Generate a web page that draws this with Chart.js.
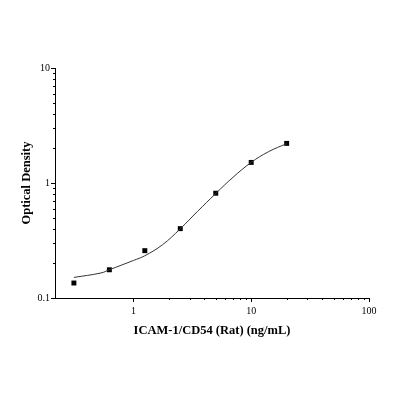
<!DOCTYPE html>
<html>
<head>
<meta charset="utf-8">
<script src="https://cdn.jsdelivr.net/npm/chart.js@4/dist/chart.umd.min.js"></script>
<style>
  html, body { margin: 0; padding: 0; background: #fff; }
</style>
</head>
<body>
<canvas id="chart" width="400" height="400"></canvas>
<script>
// standard points (concentration, OD)
var concentrations = [0.3125, 0.625, 1.25, 2.5, 5, 10, 20];
var odValues = [0.135, 0.176, 0.258, 0.401, 0.815, 1.51, 2.21];

// fitted curve
var curveX = [0.3125, 0.53, 0.625, 1, 1.25, 1.77, 2.5, 3.5, 5, 7, 10, 14, 20];
var curveY = [0.151, 0.165, 0.176, 0.212, 0.233, 0.291, 0.40, 0.566, 0.81, 1.12, 1.51, 1.87, 2.2];

// axis ticks
var xMajor = [1, 10, 100];
var xMinor = [2, 3, 4, 5, 6, 7, 8, 9, 20, 30, 40, 50, 60, 70, 80, 90];
var yMajor = [0.1, 1, 10];
var yMinor = [0.2, 0.3, 0.4, 0.5, 0.6, 0.7, 0.8, 0.9, 2, 3, 4, 5, 6, 7, 8, 9];

var serif = "'Liberation Serif', 'DejaVu Serif', serif";

var pointData = concentrations.map(function (c, i) { return {x: c, y: odValues[i]}; });
var curveData = curveX.map(function (c, i) { return {x: c, y: curveY[i]}; });

// short minor ticks outside the axes
var minorTicks = {
    id: "minorTicks",
    afterDraw: function (chart) {
        var ctx = chart.ctx;
        var xs = chart.scales.x, ys = chart.scales.y;
        ctx.save();
        ctx.strokeStyle = "#000";
        ctx.lineWidth = 1;
        ctx.beginPath();
        xMinor.forEach(function (v) {
            var px = Math.round(xs.getPixelForValue(v)) + 0.5;
            ctx.moveTo(px, xs.top);
            ctx.lineTo(px, xs.top + 2);
        });
        yMinor.forEach(function (v) {
            var py = Math.round(ys.getPixelForValue(v)) + 0.5;
            ctx.moveTo(ys.right, py);
            ctx.lineTo(ys.right - 2, py);
        });
        ctx.stroke();
        ctx.restore();
    }
};

var ctx = document.getElementById("chart");
var chart = new Chart(ctx, {
    type: "scatter",
    data: {
        datasets: [
            {
                label: "fit",
                data: curveData,
                showLine: true,
                borderColor: "#333",
                borderWidth: 1,
                pointRadius: 0,
                tension: 0.4,
                fill: false
            },
            {
                label: "standards",
                data: pointData,
                pointStyle: "rect",
                pointRadius: 3.5,
                backgroundColor: "#000",
                borderColor: "#000",
                borderWidth: 0,
                showLine: false
            }
        ]
    },
    options: {
        responsive: false,
        animation: false,
        devicePixelRatio: 1,
        layout: { padding: { top: 68, right: 31, left: 0, bottom: 0 } },
        plugins: {
            legend: { display: false },
            tooltip: { enabled: false }
        },
        scales: {
            x: {
                type: "logarithmic",
                min: 0.216,
                max: 100,
                afterBuildTicks: function (scale) {
                    scale.ticks = xMajor.map(function (v) { return {value: v}; });
                },
                afterFit: function (scale) { scale.height = 102; },
                ticks: {
                    color: "#000",
                    font: { family: serif, size: 10 },
                    padding: 3,
                    maxRotation: 0,
                    autoSkip: false,
                    callback: function (v) { return String(v); }
                },
                grid: {
                    drawOnChartArea: false,
                    drawTicks: true,
                    tickLength: 4,
                    color: "#000",
                    tickColor: "#000"
                },
                border: { display: true, color: "#000", width: 1 },
                title: {
                    display: true,
                    text: "ICAM-1/CD54 (Rat) (ng/mL)",
                    color: "#000",
                    font: { family: serif, size: 12.5, weight: "bold" },
                    padding: { top: 0, bottom: 62 }
                }
            },
            y: {
                type: "logarithmic",
                min: 0.1,
                max: 10,
                afterBuildTicks: function (scale) {
                    scale.ticks = yMajor.map(function (v) { return {value: v}; });
                },
                afterFit: function (scale) { scale.width = 55; },
                ticks: {
                    color: "#000",
                    font: { family: serif, size: 10 },
                    padding: 1,
                    autoSkip: false,
                    callback: function (v) { return String(v); }
                },
                grid: {
                    drawOnChartArea: false,
                    drawTicks: true,
                    tickLength: 4,
                    color: "#000",
                    tickColor: "#000"
                },
                border: { display: true, color: "#000", width: 1 },
                title: {
                    display: true,
                    text: "Optical Density",
                    color: "#000",
                    font: { family: serif, size: 12.5, weight: "bold" },
                    padding: { top: 19, bottom: 0 }
                }
            }
        }
    },
    plugins: [minorTicks]
});
</script>
</body>
</html>
